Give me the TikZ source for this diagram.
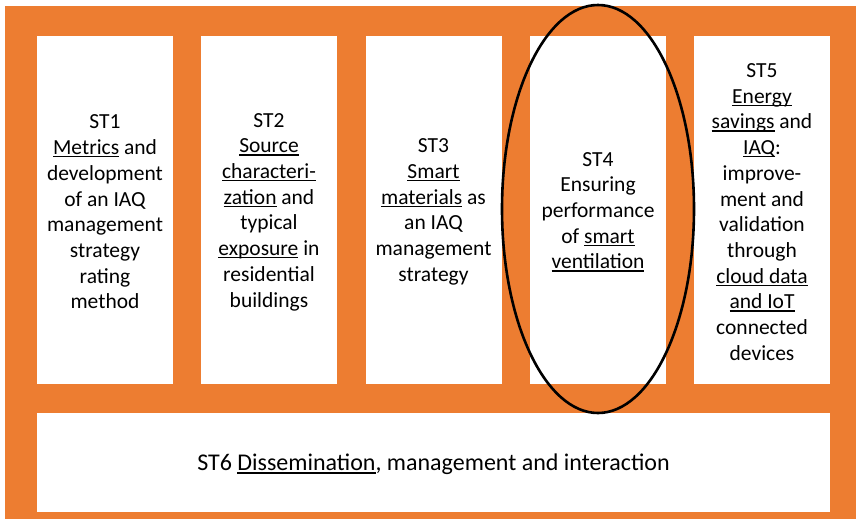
\documentclass[tikz,border=0pt]{standalone}
\usepackage{fontspec}
\setmainfont{Carlito}
\definecolor{officeorange}{HTML}{ED7D31}
\newcommand\uln[1]{\setbox0\hbox{#1}\rlap{\rule[-0.13em]{\wd0}{0.06em}}\box0\relax}
\tikzset{
  stbox/.style={fill=white, draw=none, inner sep=0pt, minimum width=136pt, minimum height=348pt},
  widebox/.style={fill=white, draw=none, inner sep=0pt, minimum width=793pt, minimum height=99pt},
  sttext/.style={align=center, inner sep=0pt, font=\fontsize{21.5}{25.7}\selectfont},
  widetext/.style={align=center, inner sep=0pt, font=\fontsize{24}{28}\selectfont},
}
\begin{document}
\begin{tikzpicture}[x=1pt,y=-1pt]
\useasboundingbox (0,0) rectangle (856,519);
\fill[officeorange] (5,6) rectangle (856,519);
\node[stbox] (st1) at (105,210) {};
\node[stbox] (st2) at (269,210) {};
\node[stbox] (st3) at (433.5,210) {};
\node[stbox] (st4) at (598,210) {};
\node[stbox] (st5) at (762,210) {};
\node[widebox] (st6) at (433.5,462.5) {};
\node[sttext] (t1) at ([yshift=-2pt]st1.center) {ST1\\\uln{Metrics} and\\development\\of an IAQ\\management\\strategy\\rating\\method};
\node[sttext] (t2) at ([yshift=-2pt]st2.center) {ST2\\\uln{Source}\\\uln{characteri-}\\\uln{zation} and\\typical\\\uln{exposure} in\\residential\\buildings};
\node[sttext] (t3) at ([yshift=-2pt]st3.center) {ST3\\\uln{Smart}\\\uln{materials} as\\an IAQ\\management\\strategy};
\node[sttext] (t4) at ([yshift=-2pt]st4.center) {ST4\\Ensuring\\performance\\of \uln{smart}\\\uln{ventilation}};
\node[sttext] (t5) at ([yshift=-2pt]st5.center) {ST5\\\uln{Energy}\\\uln{savings} and\\\uln{IAQ}:\\improve-\\ment and\\validation\\through\\\uln{cloud data}\\\uln{and IoT}\\connected\\devices};
\node[widetext] (t6) at ([yshift=-2pt]st6.center) {ST6 \uln{Dissemination}, management and interaction};
\draw[line width=2.6pt] (598,209) ellipse [x radius=96pt, y radius=204pt];
\end{tikzpicture}
\end{document}
